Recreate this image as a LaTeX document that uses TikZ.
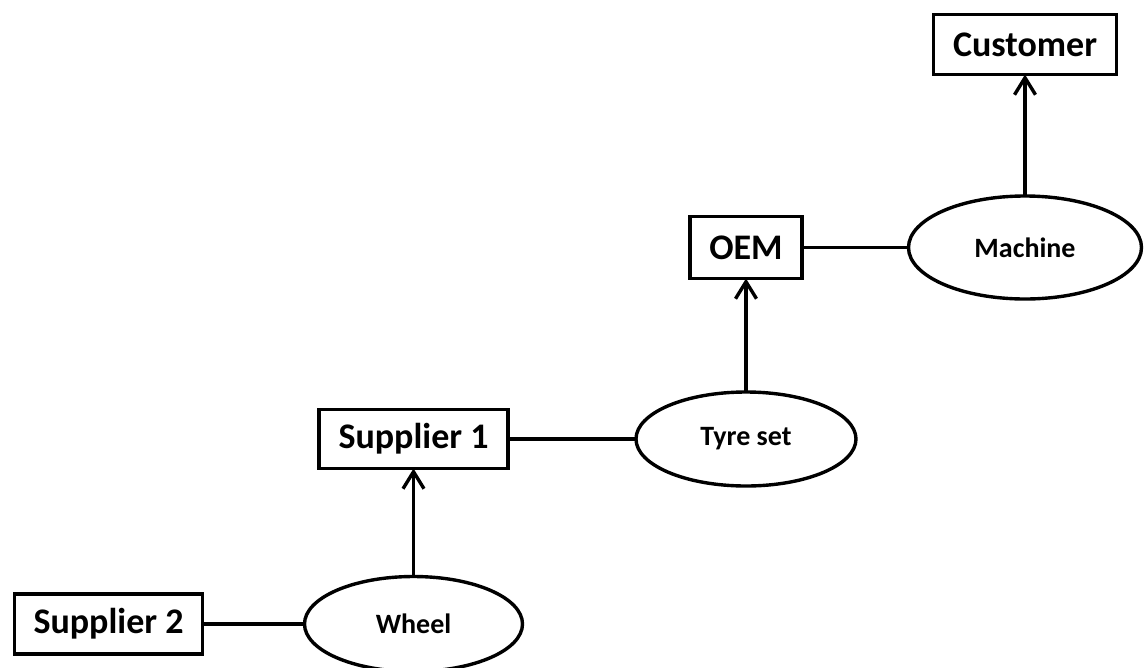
\documentclass[tikz,border=0pt]{standalone}
\usepackage{fontspec}
\setmainfont{Carlito}
\usetikzlibrary{shapes.geometric,arrows.meta}
\begin{document}
\begin{tikzpicture}[x=1pt,y=-1pt,
  line width=3.4pt,
  party/.style={draw,rectangle,inner sep=0pt,outer sep=0pt,
    font=\bfseries\fontsize{36}{40}\selectfont},
  item/.style={draw,ellipse,inner sep=0pt,outer sep=0pt,
    font=\bfseries\fontsize{28}{32}\selectfont},
  link/.style={line width=3.4pt},
  flow/.style={line width=3.4pt,-{Straight Barb[length=17pt,width=21pt]}}]
\useasboundingbox (0,0) rectangle (1146,667);

% organisations
\node[party,minimum width=183pt,minimum height=60pt] (cust) at (1025,44.5) {Customer};
\node[party,minimum width=112pt,minimum height=62pt] (oem) at (746,247.5) {OEM};
\node[party,minimum width=189pt,minimum height=59pt] (sup1) at (413.5,439) {Supplier 1};
\node[party,minimum width=188pt,minimum height=60pt] (sup2) at (108.5,624) {Supplier 2};

% products
\node[item,minimum width=233pt,minimum height=103pt] (mach) at (1025,247.5) {Machine};
\node[item,minimum width=220pt,minimum height=94pt] (tyre) at (746,439) {Tyre set};
\node[item,minimum width=218pt,minimum height=95pt] (wheel) at (413.5,624) {Wheel};

% supplier to product links
\draw[link] (oem.east) -- (mach.west);
\draw[link] (sup1.east) -- (tyre.west);
\draw[link] (sup2.east) -- (wheel.west);

% product flows upward
\draw[flow] (mach.north) -- (cust.south);
\draw[flow] (tyre.north) -- (oem.south);
\draw[flow] (wheel.north) -- (sup1.south);
\end{tikzpicture}
\end{document}
